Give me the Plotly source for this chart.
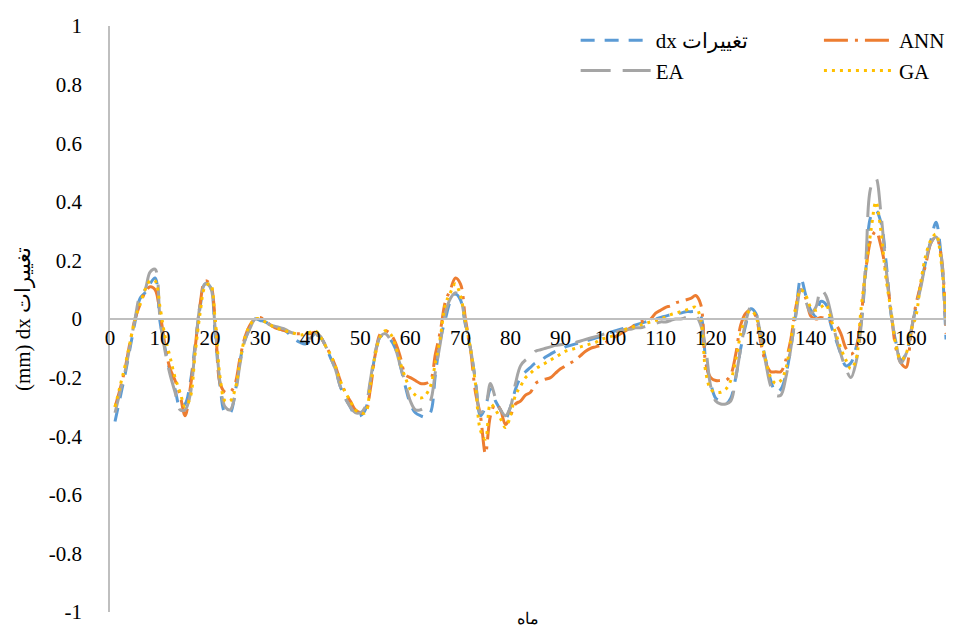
import plotly.graph_objects as go

months = list(range(1, 168))

dx_change = [
    -0.35, -0.27, -0.19, -0.10, -0.01, 0.07, 0.09, 0.12, 0.14, -0.01,
    -0.10, -0.18, -0.24, -0.30, -0.29, -0.22, -0.09, 0.04, 0.12, 0.11,
    -0.05, -0.23, -0.32, -0.32, -0.25, -0.14, -0.07, -0.03, 0.0, -0.005,
    -0.01, -0.02, -0.03, -0.035, -0.04, -0.055, -0.07, -0.08, -0.085, -0.075,
    -0.055, -0.06, -0.09, -0.13, -0.17, -0.23, -0.27, -0.30, -0.33, -0.33,
    -0.31, -0.22, -0.12, -0.06, -0.055, -0.07, -0.10, -0.16, -0.23, -0.29,
    -0.32, -0.33, -0.335, -0.32, -0.19, -0.07, 0.0, 0.06, 0.085, 0.065,
    -0.02, -0.10, -0.21, -0.33, -0.30, -0.24, -0.28, -0.31, -0.34, -0.30,
    -0.24, -0.20, -0.18, -0.165,
    -0.15, -0.145, -0.13, -0.12, -0.11,
    -0.105, -0.095, -0.09, -0.085, -0.08, -0.075, -0.07, -0.065, -0.06, -0.05,
    -0.045, -0.04, -0.035, -0.03, -0.025, -0.02, -0.015, -0.01, -0.005, 0.0,
    0.005, 0.01, 0.015, 0.02, 0.02, 0.025, 0.025, 0.025, 0.01, -0.14,
    -0.22, -0.27, -0.28, -0.29, -0.27, -0.20, -0.10, -0.02, 0.035, 0.02,
    -0.06, -0.14, -0.21, -0.25, -0.24, -0.19, -0.10, 0.02, 0.14, 0.08,
    0.03, 0.01, 0.06, 0.05, -0.02, -0.07, -0.12, -0.16, -0.15, -0.10,
    -0.02, 0.17, 0.35, 0.37, 0.33, 0.20, 0.02, -0.08, -0.14, -0.12,
    -0.04, 0.04, 0.12, 0.20, 0.27, 0.33, 0.22, -0.07,
]

ann = [
    -0.30, -0.24, -0.17, -0.08, 0.0, 0.05, 0.09, 0.11, 0.10, 0.02,
    -0.09, -0.17, -0.21, -0.26, -0.33, -0.24, -0.10, 0.05, 0.13, 0.12,
    0.0, -0.22, -0.25, -0.25, -0.22, -0.13, -0.06, -0.02, 0.0, 0.005,
    -0.005, -0.02, -0.03, -0.035, -0.04, -0.045, -0.05, -0.05, -0.05, -0.05,
    -0.045, -0.06, -0.09, -0.12, -0.16, -0.21, -0.25, -0.28, -0.31, -0.32,
    -0.32, -0.24, -0.12, -0.05, -0.04, -0.05, -0.08, -0.13, -0.19, -0.20,
    -0.21, -0.22, -0.22, -0.21, -0.12, -0.04, 0.06, 0.10, 0.14, 0.12,
    0.0, -0.10, -0.25, -0.33, -0.46, -0.33, -0.29, -0.31, -0.36, -0.33,
    -0.29, -0.28, -0.26, -0.25,
    -0.22, -0.21, -0.205, -0.20, -0.185,
    -0.17, -0.16, -0.15, -0.14, -0.125, -0.11, -0.10, -0.095, -0.09, -0.08,
    -0.07, -0.06, -0.05, -0.04, -0.03, -0.02, -0.01, -0.005, 0.0, 0.02,
    0.03, 0.04, 0.045, 0.055, 0.06, 0.065, 0.07, 0.08, 0.05, -0.15,
    -0.20, -0.21, -0.21, -0.21, -0.19, -0.12, -0.02, 0.02, 0.03, 0.01,
    -0.08, -0.15, -0.18, -0.18, -0.18, -0.14, -0.07, 0.04, 0.10, 0.07,
    0.01, 0.0, 0.005, 0.0, -0.01, -0.02, -0.05, -0.10, -0.12, -0.10,
    0.0, 0.17, 0.27, 0.30, 0.25, 0.16, 0.03, -0.10, -0.15, -0.165,
    -0.05, 0.05, 0.12, 0.19, 0.26, 0.28, 0.22, -0.05,
]

ea = [
    -0.32, -0.25, -0.18, -0.09, 0.0, 0.08, 0.10, 0.16, 0.17, 0.0,
    -0.11, -0.19, -0.25, -0.31, -0.31, -0.26, -0.10, 0.05, 0.12, 0.11,
    -0.03, -0.22, -0.30, -0.31, -0.26, -0.15, -0.07, -0.03, 0.0, 0.0,
    -0.01, -0.02, -0.025, -0.03, -0.035, -0.045, -0.05, -0.06, -0.065, -0.065,
    -0.05, -0.06, -0.09, -0.13, -0.17, -0.23, -0.27, -0.30, -0.32, -0.32,
    -0.30, -0.21, -0.11, -0.06, -0.05, -0.07, -0.10, -0.16, -0.22, -0.28,
    -0.31, -0.31, -0.30, -0.28, -0.18, -0.08, 0.02, 0.07, 0.09, 0.07,
    -0.015, -0.10, -0.21, -0.32, -0.30, -0.22, -0.27, -0.31, -0.33, -0.30,
    -0.22, -0.16, -0.14, -0.13,
    -0.11, -0.105, -0.10, -0.095, -0.09,
    -0.088, -0.085, -0.082, -0.08, -0.075, -0.07, -0.065, -0.06, -0.055, -0.05,
    -0.045, -0.045, -0.04, -0.035, -0.035, -0.03, -0.03, -0.025, -0.02, -0.015,
    -0.01, -0.01, -0.005, 0.0, 0.0, 0.005, 0.01, 0.01, -0.02, -0.10,
    -0.23, -0.28, -0.29, -0.29, -0.28, -0.20, -0.10, -0.01, 0.04, 0.02,
    -0.06, -0.15, -0.23, -0.26, -0.26, -0.20, -0.10, 0.01, 0.10, 0.06,
    0.02, 0.04, 0.10, 0.08, 0.02, -0.06, -0.12, -0.17, -0.20, -0.15,
    -0.03, 0.20, 0.45, 0.48, 0.36, 0.18, 0.02, -0.08, -0.15, -0.12,
    -0.04, 0.04, 0.11, 0.20, 0.26, 0.28, 0.22, -0.05,
]

ga = [
    -0.30, -0.23, -0.16, -0.08, 0.0, 0.05, 0.10, 0.13, 0.13, 0.04,
    -0.06, -0.13, -0.20, -0.25, -0.30, -0.27, -0.12, 0.02, 0.11, 0.12,
    0.0, -0.20, -0.28, -0.28, -0.24, -0.14, -0.06, -0.02, 0.0, 0.0,
    -0.01, -0.02, -0.03, -0.035, -0.04, -0.045, -0.05, -0.055, -0.05, -0.045,
    -0.04, -0.06, -0.09, -0.12, -0.16, -0.21, -0.25, -0.28, -0.31, -0.32,
    -0.32, -0.23, -0.12, -0.06, -0.04, -0.05, -0.09, -0.15, -0.20, -0.24,
    -0.26, -0.27, -0.26, -0.23, -0.15, -0.06, 0.05, 0.09, 0.12, 0.08,
    -0.01, -0.10, -0.22, -0.38, -0.41, -0.29, -0.31, -0.34, -0.37, -0.33,
    -0.26, -0.23, -0.20, -0.185,
    -0.17, -0.16, -0.15, -0.14, -0.13,
    -0.12, -0.11, -0.105, -0.10, -0.095, -0.09, -0.085, -0.08, -0.07, -0.065,
    -0.06, -0.055, -0.045, -0.035, -0.03, -0.025, -0.02, -0.015, -0.01, -0.005,
    0.0, 0.007, 0.015, 0.02, 0.025, 0.03, 0.037, 0.04, 0.0, -0.18,
    -0.24, -0.25, -0.25, -0.24, -0.21, -0.14, -0.05, 0.01, 0.03, 0.01,
    -0.07, -0.14, -0.20, -0.22, -0.21, -0.17, -0.07, 0.04, 0.10, 0.08,
    0.04, 0.03, 0.04, 0.05, 0.0, -0.05, -0.10, -0.14, -0.17, -0.14,
    0.03, 0.17, 0.30, 0.40, 0.30, 0.14, 0.03, -0.09, -0.14, -0.12,
    -0.04, 0.01, 0.13, 0.22, 0.27, 0.29, 0.20, 0.0,
]

y_tick_vals = [-1, -0.8, -0.6, -0.4, -0.2, 0, 0.2, 0.4, 0.6, 0.8, 1]
y_tick_text = ["-1", "-0.8", "-0.6", "-0.4", "-0.2", "0", "0.2", "0.4", "0.6", "0.8", "1"]
x_tick_vals = [0, 10, 20, 30, 40, 50, 60, 70, 80, 90, 100, 110, 120, 130, 140, 150, 160]

series_names = ["dx تغییرات", "ANN", "EA", "GA"]
series_values = [dx_change, ann, ea, ga]
series_colors = ["#5B9BD5", "#ED7D31", "#A5A5A5", "#FFC000"]
series_dash = ["14px,10px", "24px,7px,3px,7px", "30px,12px", "3px,5px"]
series_legend = ["legend", "legend2", "legend", "legend2"]

SERIF = "Liberation Serif, Times New Roman, serif"

fig = go.Figure()
for name, vals, color, dash, lg in zip(series_names, series_values, series_colors,
                                       series_dash, series_legend):
    fig.add_trace(go.Scatter(
        x=months, y=vals, mode="lines", name=name, legend=lg,
        line=dict(color=color, width=3, dash=dash, shape="spline", smoothing=1),
    ))

fig.update_layout(
    width=953, height=626,
    margin=dict(l=110, r=3, t=26, b=14),
    paper_bgcolor="white", plot_bgcolor="white",
    font=dict(family=SERIF, size=20, color="black"),
    xaxis=dict(
        range=[0, 167], tickvals=x_tick_vals, showgrid=False, zeroline=False,
        showline=True, linecolor="#BFBFBF", linewidth=1.5,
        anchor="free", position=0.5, ticks="",
        tickfont=dict(family=SERIF, size=21, color="black"),
    ),
    yaxis=dict(
        range=[-1, 1], tickvals=y_tick_vals, ticktext=y_tick_text,
        showgrid=False, zeroline=False, showline=True, linecolor="#BFBFBF", linewidth=1.5,
        ticks="", ticklabelstandoff=22,
        tickfont=dict(family=SERIF, size=21, color="black"),
        title=dict(text="(mm) dx تغییرات", standoff=12,
                   font=dict(family=SERIF, size=21, color="black")),
        automargin=False,
    ),
    legend=dict(x=0.557, y=1.01, xanchor="left", yanchor="top",
                bgcolor="rgba(0,0,0,0)", itemwidth=70,
                font=dict(family=SERIF, size=21, color="black")),
    legend2=dict(x=0.848, y=1.01, xanchor="left", yanchor="top",
                 bgcolor="rgba(0,0,0,0)", itemwidth=70,
                 font=dict(family=SERIF, size=21, color="black")),
    annotations=[dict(text="ماه", x=0.5, y=0, xref="paper", yref="paper",
                      xanchor="center", yanchor="middle", yshift=-6, showarrow=False,
                      font=dict(family=SERIF, size=16, color="black"))],
)

fig.write_html("out.html")
